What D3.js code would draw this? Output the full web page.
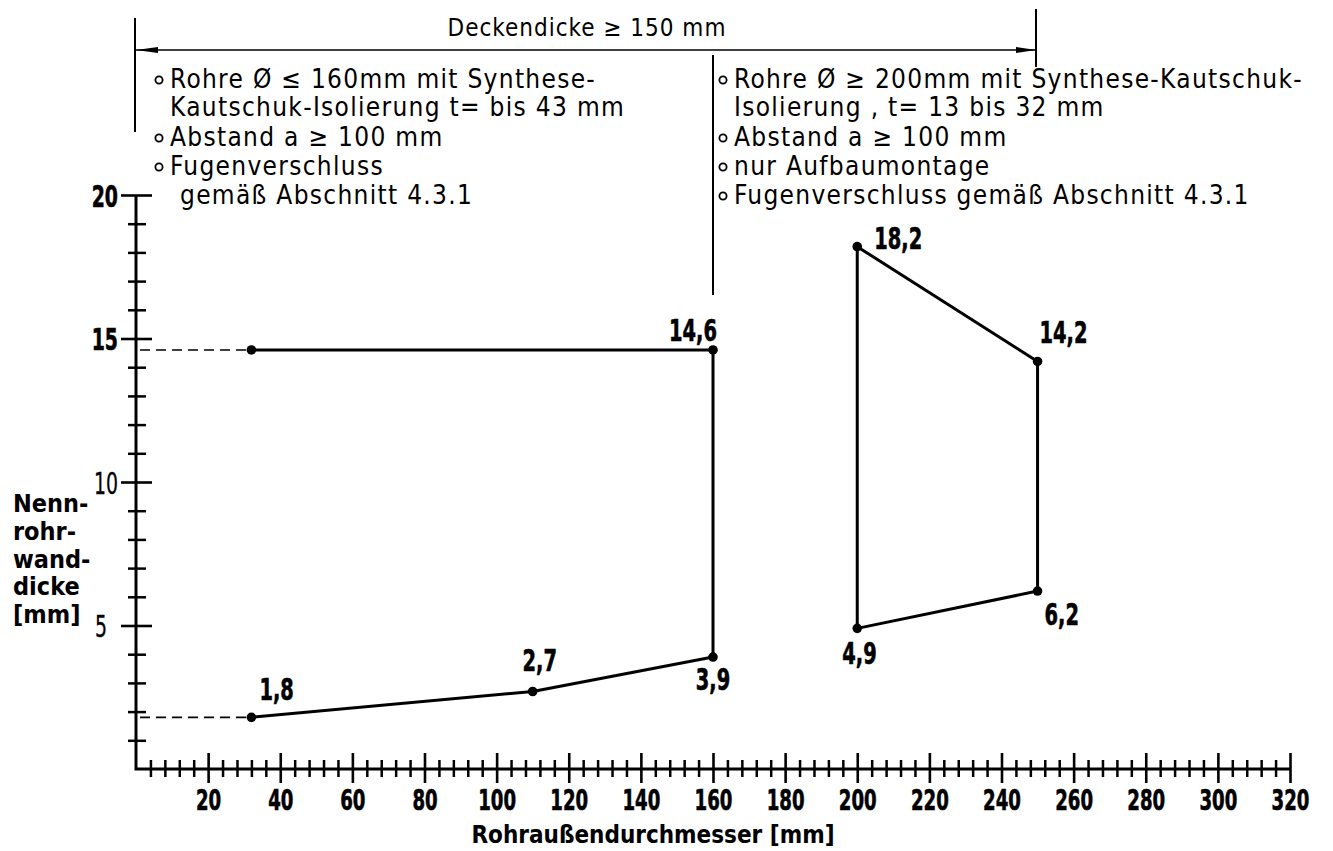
<!DOCTYPE html>
<html>
<head>
<meta charset="utf-8">
<script src="https://cdn.jsdelivr.net/npm/d3@7"></script>
<style>
  html, body { margin: 0; padding: 0; background: #fff; }
  svg { display: block; }
  .num { font-family: 'DejaVu Sans Condensed', 'DejaVu Sans', sans-serif; font-stretch: condensed; font-weight: bold; fill: #000; stroke: #000; stroke-width: 0.6px; }
  .lbl { font-family: 'DejaVu Sans Condensed', 'DejaVu Sans', sans-serif; font-stretch: condensed; font-weight: bold; fill: #000; }
  .note { font-family: 'DejaVu Sans Condensed', 'DejaVu Sans', sans-serif; font-stretch: condensed; font-weight: normal; fill: #000; }
</style>
</head>
<body>
<svg id="chart" width="1333" height="851"></svg>
<script>
// ---- data ----
const xTickLabels = [20, 40, 60, 80, 100, 120, 140, 160, 180, 200, 220, 240, 260, 280, 300, 320];
const yTickLabels = [5, 10, 15, 20];

const leftX = [32, 160, 160, 110, 32];
const leftY = [14.6, 14.6, 3.9, 2.7, 1.8];
const leftLabels = ["", "14,6", "3,9", "2,7", "1,8"];

const rightX = [200, 250, 250, 200];
const rightY = [18.2, 14.2, 6.2, 4.9];
const rightLabels = ["18,2", "14,2", "6,2", "4,9"];

const refLevels = [14.6, 1.8];   // dashed reference lines to the y axis
const refX = 32;

const headerText = "Deckendicke \u2265 150 mm";
const leftNotes = [
  {b: true,  t: "Rohre \u00D8 \u2264 160mm mit Synthese-"},
  {b: false, t: "Kautschuk-Isolierung t= bis 43 mm"},
  {b: true,  t: "Abstand a \u2265 100 mm"},
  {b: true,  t: "Fugenverschluss"},
  {b: false, t: "gem\u00E4\u00DF Abschnitt 4.3.1", extra: true}
];
const rightNotes = [
  {b: true,  t: "Rohre \u00D8 \u2265 200mm mit Synthese-Kautschuk-"},
  {b: false, t: "Isolierung , t= 13 bis 32 mm"},
  {b: true,  t: "Abstand a \u2265 100 mm"},
  {b: true,  t: "nur Aufbaumontage"},
  {b: true,  t: "Fugenverschluss gem\u00E4\u00DF Abschnitt 4.3.1"}
];
const yTitle = ["Nenn-", "rohr-", "wand-", "dicke", "[mm]"];
const xTitle = "Rohrau\u00DFendurchmesser [mm]";

// ---- drawing ----
const svg = d3.select("#chart");
const x = d3.scaleLinear().domain([0, 320]).range([136, 1290]);
const y = d3.scaleLinear().domain([0, 20]).range([769, 195]);
const NARROW = 0.72;

// x axis: minor ticks
const xMinor = d3.range(4, 320, 4).filter(v => v % 20 !== 0);
const gxMinor = svg.append("g").attr("transform", `translate(0,${y(0)})`)
  .call(d3.axisBottom(x).tickValues(xMinor).tickFormat("").tickSizeOuter(0));
gxMinor.select(".domain").remove();
gxMinor.selectAll(".tick line").attr("y1", -9).attr("y2", 8).attr("stroke", "#000").attr("stroke-width", 2.5);

// x axis: major ticks + labels
const gxMajor = svg.append("g").attr("transform", `translate(0,${y(0)})`)
  .call(d3.axisBottom(x).tickValues(xTickLabels).tickFormat(d => String(d)).tickSizeOuter(0));
gxMajor.select(".domain").remove();
gxMajor.selectAll(".tick line").attr("y1", -16).attr("y2", 14).attr("stroke", "#000").attr("stroke-width", 2.6);
gxMajor.selectAll(".tick text").attr("class", "num").attr("y", 0).attr("dy", 0)
  .attr("transform", `translate(0,41) scale(${NARROW},1)`)
  .style("font-size", "28px").attr("fill", "#000");

// y axis: minor ticks
const yMinor = d3.range(1, 20).filter(v => v % 5 !== 0);
const gyMinor = svg.append("g").attr("transform", `translate(${x(0)},0)`)
  .call(d3.axisLeft(y).tickValues(yMinor).tickFormat("").tickSizeOuter(0));
gyMinor.select(".domain").remove();
gyMinor.selectAll(".tick line").attr("x1", -8).attr("x2", 10).attr("stroke", "#000").attr("stroke-width", 2.5);

// y axis: major ticks + labels
const gyMajor = svg.append("g").attr("transform", `translate(${x(0)},0)`)
  .call(d3.axisLeft(y).tickValues(yTickLabels).tickFormat(d => String(d)).tickSizeOuter(0));
gyMajor.select(".domain").remove();
gyMajor.selectAll(".tick line").attr("x1", -15).attr("x2", 16).attr("stroke", "#000").attr("stroke-width", 2.6);
gyMajor.selectAll(".tick text").attr("class", "num")
  .attr("x", 0).attr("y", 0).attr("dy", 0)
  .attr("transform", d => `translate(${d === 5 ? -29 : -18},11) scale(0.7,1)`)
  .style("font-size", "30px")
  .style("font-weight", d => d >= 15 ? "bold" : "normal")
  .style("stroke-width", d => d >= 15 ? "0.6px" : "0.3px")
  .attr("text-anchor", "end").attr("fill", "#000");

// axis lines
svg.append("path")
  .attr("d", `M${x(0)},${y(20)}V${y(0)}H${x(320)}`)
  .attr("fill", "none").attr("stroke", "#000").attr("stroke-width", 3)
  .attr("stroke-linejoin", "miter");

// dashed reference lines
svg.selectAll("line.ref").data(refLevels).join("line")
  .attr("class", "ref")
  .attr("x1", x(0) + 4).attr("x2", x(refX))
  .attr("y1", d => y(d)).attr("y2", d => y(d))
  .attr("stroke", "#000").attr("stroke-width", 1.6).attr("stroke-dasharray", "10,6");

// series lines
const leftPts = leftX.map((v, i) => [v, leftY[i], leftLabels[i]]);
const rightPts = rightX.map((v, i) => [v, rightY[i], rightLabels[i]]);
const line = d3.line().x(d => x(d[0])).y(d => y(d[1]));

svg.append("path").datum(leftPts).attr("d", line)
  .attr("fill", "none").attr("stroke", "#000").attr("stroke-width", 3).attr("stroke-linejoin", "round");
svg.append("path").datum(rightPts).attr("d", d => line(d) + "Z")
  .attr("fill", "none").attr("stroke", "#000").attr("stroke-width", 3).attr("stroke-linejoin", "round");

const allPts = leftPts.concat(rightPts);
svg.selectAll("circle.pt").data(allPts).join("circle")
  .attr("class", "pt")
  .attr("cx", d => x(d[0])).attr("cy", d => y(d[1])).attr("r", 4.8).attr("fill", "#000");

// value labels (offsets relative to point)
const labelOffset = {
  "14,6": {dx: 4,   dy: -9,  a: "end"},
  "3,9":  {dx: 0,   dy: 33,  a: "middle"},
  "2,7":  {dx: 7,   dy: -21, a: "middle"},
  "1,8":  {dx: 8,   dy: -17, a: "start"},
  "18,2": {dx: 17,  dy: 2,   a: "start"},
  "14,2": {dx: 2,   dy: -18, a: "start"},
  "6,2":  {dx: 7,   dy: 34,  a: "start"},
  "4,9":  {dx: -15, dy: 36,  a: "start"}
};
svg.selectAll("text.val").data(allPts.filter(d => d[2])).join("text")
  .attr("class", "val num")
  .attr("x", 0).attr("y", 0)
  .attr("transform", d => `translate(${x(d[0]) + labelOffset[d[2]].dx},${y(d[1]) + labelOffset[d[2]].dy}) scale(${NARROW},1)`)
  .attr("text-anchor", d => labelOffset[d[2]].a)
  .style("font-size", "30px")
  .text(d => d[2]);

// axis titles
svg.append("text").attr("class", "lbl").attr("x", 653).attr("y", 843)
  .attr("text-anchor", "middle").style("font-size", "24px").text(xTitle);
svg.selectAll("text.yt").data(yTitle).join("text")
  .attr("class", "yt lbl").attr("x", 13).attr("y", (d, i) => 512 + i * 27.8)
  .style("font-size", "25px").text(d => d);

// header dimension line
svg.append("text").attr("class", "note").attr("x", 587).attr("y", 36)
  .attr("text-anchor", "middle").style("font-size", "24px").style("letter-spacing", "1px")
  .text(headerText);
const strokeThin = 1.6;
svg.append("line").attr("x1", 136).attr("x2", 1036).attr("y1", 50).attr("y2", 50)
  .attr("stroke", "#000").attr("stroke-width", strokeThin);
svg.append("path").attr("d", "M136,50L158,47L158,53Z").attr("fill", "#000");
svg.append("path").attr("d", "M1036,50L1016,47L1016,53Z").attr("fill", "#000");
svg.append("line").attr("x1", 135).attr("x2", 135).attr("y1", 18).attr("y2", 132)
  .attr("stroke", "#000").attr("stroke-width", 2);
svg.append("line").attr("x1", 1036).attr("x2", 1036).attr("y1", 9).attr("y2", 67)
  .attr("stroke", "#000").attr("stroke-width", 2);
svg.append("line").attr("x1", 713).attr("x2", 713).attr("y1", 55).attr("y2", 295)
  .attr("stroke", "#000").attr("stroke-width", 2);

// note blocks
function notes(list, bx, tx, baselines) {
  const g = svg.append("g");
  list.forEach((n, i) => {
    if (n.b) {
      g.append("circle").attr("cx", bx).attr("cy", baselines[i] - 8).attr("r", 3.6)
        .attr("fill", "none").attr("stroke", "#000").attr("stroke-width", 1.8);
    }
    g.append("text").attr("class", "note")
      .attr("x", tx + (n.extra ? 10 : 0)).attr("y", baselines[i])
      .style("font-size", "26px").style("letter-spacing", "1.3px")
      .text(n.t);
  });
}
notes(leftNotes, 159, 170, [88, 116, 146, 175, 204]);
notes(rightNotes, 723, 734, [88, 116, 146, 175, 204]);
</script>
</body>
</html>
